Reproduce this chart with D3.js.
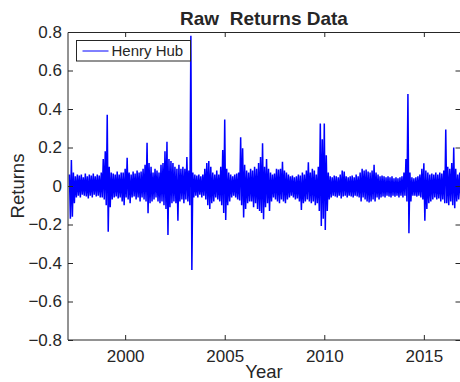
<!DOCTYPE html>
<html>
<head>
<meta charset="utf-8">
<script src="https://cdn.jsdelivr.net/npm/d3@7"></script>
<style>
  html, body { margin: 0; padding: 0; background: #fff; }
  svg { display: block; }
  text { font-family: "Liberation Sans", Arial, Helvetica, sans-serif; fill: #262626; }
</style>
</head>
<body>
<svg id="chart" width="460" height="382"></svg>
<script>
// Henry Hub daily returns, summarised as the upper and lower excursion
// of the series in each 0.1-year slot, starting at 1997.2.
const firstSlotYear = 1997.2;
const slotWidth = 0.1;

const highs = [
  0.06, 0.135, 0.07, 0.05, 0.06, 0.055, 0.06, 0.045, 0.065, 0.05,
  0.06, 0.055, 0.065, 0.05, 0.06, 0.055, 0.07, 0.14, 0.18, 0.37,
  0.10, 0.07, 0.065, 0.06, 0.075, 0.06, 0.07, 0.07, 0.09, 0.147,
  0.07, 0.06, 0.075, 0.065, 0.08, 0.07, 0.075, 0.09, 0.11, 0.225,
  0.12, 0.10, 0.07, 0.09, 0.08, 0.07, 0.11, 0.12, 0.18, 0.23,
  0.14, 0.13, 0.12, 0.10, 0.09, 0.11, 0.09, 0.10, 0.09, 0.15,
  0.08, 0.78, 0.07, 0.06, 0.055, 0.06, 0.05, 0.06, 0.09, 0.12,
  0.13, 0.10, 0.07, 0.06, 0.08, 0.06, 0.10, 0.187, 0.346, 0.09,
  0.07, 0.06, 0.05, 0.06, 0.065, 0.07, 0.253, 0.196, 0.11, 0.08,
  0.07, 0.09, 0.08, 0.10, 0.09, 0.12, 0.15, 0.222, 0.10, 0.14,
  0.09, 0.07, 0.06, 0.065, 0.09, 0.085, 0.09, 0.126, 0.08, 0.07,
  0.06, 0.05, 0.055, 0.045, 0.05, 0.06, 0.055, 0.07, 0.06, 0.08,
  0.123, 0.07, 0.09, 0.08, 0.06, 0.10, 0.325, 0.243, 0.325, 0.16,
  0.07, 0.05, 0.045, 0.055, 0.05, 0.045, 0.06, 0.08, 0.075, 0.05,
  0.045, 0.05, 0.055, 0.045, 0.06, 0.05, 0.07, 0.09, 0.08, 0.085,
  0.075, 0.07, 0.08, 0.11, 0.07, 0.06, 0.05, 0.055, 0.05, 0.045,
  0.05, 0.045, 0.05, 0.04, 0.045, 0.04, 0.045, 0.05, 0.07, 0.14,
  0.478, 0.07, 0.045, 0.04, 0.045, 0.05, 0.06, 0.09, 0.118, 0.08,
  0.07, 0.06, 0.065, 0.06, 0.07, 0.06, 0.07, 0.065, 0.08, 0.294,
  0.10, 0.09, 0.12, 0.20, 0.09, 0.06, 0.07
];

const lows = [
  -0.17, -0.16, -0.09, -0.06, -0.05, -0.06, -0.045, -0.05, -0.055, -0.065,
  -0.05, -0.06, -0.045, -0.055, -0.05, -0.06, -0.06, -0.07, -0.10, -0.237,
  -0.11, -0.07, -0.06, -0.055, -0.065, -0.06, -0.08, -0.10, -0.06, -0.07,
  -0.09, -0.06, -0.055, -0.07, -0.06, -0.08, -0.06, -0.07, -0.08, -0.142,
  -0.09, -0.08, -0.07, -0.06, -0.08, -0.09, -0.08, -0.10, -0.12, -0.255,
  -0.11, -0.09, -0.08, -0.09, -0.18, -0.08, -0.07, -0.09, -0.07, -0.08,
  -0.10, -0.436, -0.06, -0.05, -0.06, -0.045, -0.06, -0.05, -0.07, -0.10,
  -0.12, -0.09, -0.08, -0.06, -0.07, -0.08, -0.10, -0.14, -0.177, -0.10,
  -0.08, -0.06, -0.05, -0.06, -0.07, -0.075, -0.10, -0.163, -0.12, -0.09,
  -0.08, -0.08, -0.11, -0.09, -0.12, -0.13, -0.14, -0.173, -0.11, -0.09,
  -0.13, -0.08, -0.06, -0.07, -0.08, -0.09, -0.07, -0.08, -0.09, -0.07,
  -0.06, -0.05, -0.06, -0.07, -0.065, -0.08, -0.125, -0.09, -0.08, -0.07,
  -0.08, -0.09, -0.08, -0.10, -0.09, -0.13, -0.208, -0.17, -0.229, -0.13,
  -0.07, -0.06, -0.05, -0.055, -0.06, -0.05, -0.065, -0.055, -0.05, -0.06,
  -0.05, -0.055, -0.06, -0.05, -0.055, -0.06, -0.08, -0.06, -0.07, -0.08,
  -0.085, -0.08, -0.07, -0.08, -0.06, -0.07, -0.06, -0.055, -0.06, -0.05,
  -0.055, -0.06, -0.05, -0.055, -0.05, -0.06, -0.05, -0.06, -0.05, -0.08,
  -0.246, -0.08, -0.05, -0.05, -0.055, -0.05, -0.06, -0.07, -0.18, -0.12,
  -0.09, -0.08, -0.07, -0.06, -0.07, -0.065, -0.08, -0.07, -0.09, -0.09,
  -0.10, -0.08, -0.10, -0.115, -0.08, -0.07, -0.06
];

const yearTicks = [2000, 2005, 2010, 2015];
const returnTicks = [0.8, 0.6, 0.4, 0.2, 0, -0.2, -0.4, -0.6, -0.8];
const seriesName = "Henry Hub";
const titleText = "Raw  Returns Data";
const xLabel = "Year";
const yLabel = "Returns";

const svg = d3.select("#chart");
const plot = { left: 68, right: 460.5, top: 32, bottom: 340 };

const x = d3.scaleLinear().domain([1997.13, 2016.84]).range([plot.left, plot.right]);
const y = d3.scaleLinear().domain([-0.8, 0.8]).range([plot.bottom, plot.top]);

// Dense daily trace: within every slot the line swings from the high to the low.
const trace = [];
highs.forEach((h, i) => {
  const t = firstSlotYear + i * slotWidth;
  trace.push([t, h]);
  trace.push([t + slotWidth / 2, lows[i]]);
});

svg.append("rect")
  .attr("x", plot.left).attr("y", plot.top)
  .attr("width", plot.right - plot.left).attr("height", plot.bottom - plot.top)
  .attr("fill", "#fff");

svg.append("path")
  .datum(trace)
  .attr("fill", "none")
  .attr("stroke", "#0000ff")
  .attr("stroke-width", 1.5)
  .attr("stroke-linejoin", "miter")
  .attr("stroke-miterlimit", 2)
  .attr("d", d3.line().x(d => x(d[0])).y(d => y(d[1])));

// Axes with inward ticks on all four sides
const axisColor = "#262626";
const tickLen = 5;

const bottomAxis = d3.axisBottom(x).tickValues(yearTicks).tickFormat(d3.format("d")).tickSize(-tickLen).tickPadding(10);
const topAxis = d3.axisTop(x).tickValues(yearTicks).tickFormat("").tickSize(-tickLen);
const leftAxis = d3.axisLeft(y).tickValues(returnTicks).tickFormat(d => d === 0 ? "0" : d3.format(".1f")(d)).tickSize(-tickLen).tickPadding(6);
const rightAxis = d3.axisRight(y).tickValues(returnTicks).tickFormat("").tickSize(-tickLen);

function styleAxis(g) {
  g.select(".domain").remove();
  g.selectAll(".tick line").attr("stroke", axisColor);
  g.selectAll(".tick text").attr("fill", axisColor).style("font-size", "17px")
    .style("font-family", "'Liberation Sans', Arial, sans-serif");
}

svg.append("g").attr("transform", `translate(0,${plot.bottom})`).call(bottomAxis).call(styleAxis);
svg.append("g").attr("transform", `translate(0,${plot.top})`).call(topAxis).call(styleAxis);
svg.append("g").attr("transform", `translate(${plot.left},0)`).call(leftAxis).call(styleAxis);
svg.append("g").attr("transform", `translate(${plot.right},0)`).call(rightAxis).call(styleAxis);

// Box outline
svg.append("path")
  .attr("d", `M${plot.left},${plot.bottom}V${plot.top + 0.5}H${plot.right}V${plot.bottom}H${plot.left}`)
  .attr("fill", "none").attr("stroke", axisColor).attr("stroke-width", 1);

// Title and axis labels
svg.append("text")
  .attr("x", (plot.left + 460) / 2).attr("y", 25)
  .attr("text-anchor", "middle")
  .style("font-size", "19px").style("font-weight", "bold").style("white-space", "pre")
  .attr("fill", "#000")
  .text(titleText);

svg.append("text")
  .attr("x", (plot.left + 460) / 2).attr("y", 378)
  .attr("text-anchor", "middle")
  .style("font-size", "18.5px")
  .text(xLabel);

svg.append("text")
  .attr("transform", `translate(24,${(plot.top + plot.bottom) / 2}) rotate(-90)`)
  .attr("text-anchor", "middle")
  .style("font-size", "18.5px")
  .text(yLabel);

// Legend
const legend = svg.append("g");
legend.append("rect")
  .attr("x", 76.5).attr("y", 40.5).attr("width", 114).attr("height", 20.5)
  .attr("fill", "#fff").attr("stroke", axisColor).attr("stroke-width", 1);
legend.append("line")
  .attr("x1", 82.5).attr("x2", 108.5).attr("y1", 51).attr("y2", 51)
  .attr("stroke", "#0000ff").attr("stroke-width", 1);
legend.append("text")
  .attr("x", 111.5).attr("y", 55.5)
  .style("font-size", "15px")
  .text(seriesName);
</script>
</body>
</html>
